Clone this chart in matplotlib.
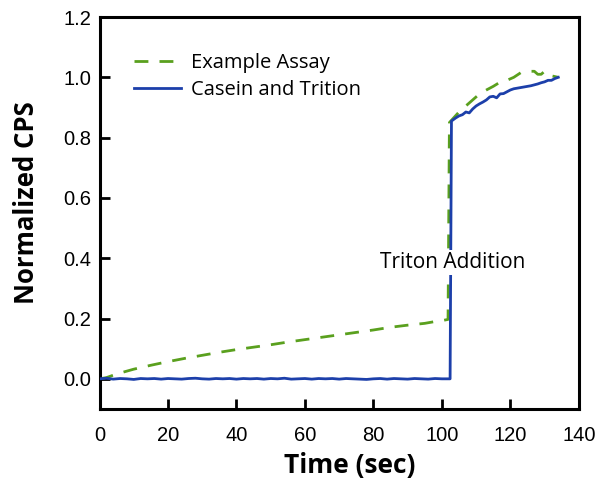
import matplotlib
matplotlib.use("Agg")
import matplotlib.pyplot as plt

plt.rcParams["font.family"] = ["Liberation Sans", "DejaVu Sans"]

# Example Assay (green dashed)
assay_t = [0, 2, 5, 10, 15, 20, 25, 30, 35, 40, 45, 50, 55, 60, 65, 70, 75, 80, 85, 90,
           95, 98, 100, 101.8, 102.2, 103, 105, 107, 109, 111, 113, 115, 117, 119, 121,
           123, 125, 127, 128, 129, 130, 131, 132, 134]
assay_v = [0.0, 0.004, 0.016, 0.032, 0.045, 0.057, 0.068, 0.078, 0.088, 0.097, 0.105,
           0.113, 0.122, 0.130, 0.138, 0.146, 0.154, 0.162, 0.171, 0.178, 0.184, 0.190,
           0.193, 0.197, 0.850, 0.860, 0.885, 0.905, 0.925, 0.945, 0.958, 0.970, 0.984,
           0.990, 1.000, 1.015, 1.020, 1.020, 1.010, 1.010, 1.020, 1.008, 1.005, 1.000]

# Casein and Trition (blue solid)
casein_t = [0, 2, 4, 6, 8, 10, 12, 14, 16, 18, 20, 22, 24, 26, 28, 30, 32, 34, 36, 38,
            40, 42, 44, 46, 48, 50, 52, 54, 56, 58, 60, 62, 64, 66, 68, 70, 72, 74, 76,
            78, 80, 82, 84, 86, 88, 90, 92, 94, 96, 98, 100, 102.4, 102.8, 104, 105, 106,
            107, 108, 109, 110, 111, 112, 113, 114, 115, 116, 117, 118, 119, 120, 121, 122,
            123, 124, 125, 126, 127, 128, 129, 130, 131, 132, 133, 134]
casein_v = [0.0, 0.002, -0.001, 0.001, 0.0, -0.002, 0.001, 0.0, 0.001, -0.001, 0.001,
            0.0, -0.001, 0.001, 0.002, 0.0, -0.001, 0.001, 0.0, 0.001, -0.001, 0.001,
            0.0, 0.001, -0.001, 0.001, 0.0, 0.002, -0.001, 0.0, 0.001, -0.001, 0.001,
            0.0, 0.001, -0.001, 0.001, 0.0, -0.001, -0.002, 0.0, 0.001, -0.001, 0.001,
            0.0, -0.001, 0.001, 0.0, -0.001, 0.001, 0.0, 0.0, 0.855, 0.865, 0.872, 0.876,
            0.885, 0.882, 0.895, 0.905, 0.912, 0.918, 0.925, 0.935, 0.937, 0.932, 0.945,
            0.946, 0.952, 0.958, 0.962, 0.964, 0.966, 0.968, 0.970, 0.972, 0.975, 0.978,
            0.982, 0.985, 0.990, 0.990, 0.996, 1.000]

x_ticks = [0, 20, 40, 60, 80, 100, 120, 140]
y_ticks = [0.0, 0.2, 0.4, 0.6, 0.8, 1.0, 1.2]

fig = plt.figure(figsize=(6.01, 4.82), dpi=100)
ax = fig.add_axes([0.1656, 0.1515, 0.7975, 0.8132])

green = "#5aa01e"
blue = "#1c3faa"
ax.plot(assay_t, assay_v, color=green, lw=2.0, ls=(0, (5, 4)), label="Example Assay", zorder=2)
ax.plot(casein_t, casein_v, color=blue, lw=2.0, label="Casein and Trition", zorder=3)

ax.set_xlim(0, 140)
ax.set_ylim(-0.1, 1.2)
ax.tick_params(direction="in", length=7, width=2, top=False, right=False, labelsize=14.5)
ax.tick_params(axis="x", pad=12)
ax.tick_params(axis="y", pad=6)
ax.set_xticks(x_ticks)
ax.set_yticks(y_ticks)
ax.set_xticklabels([str(v) for v in x_ticks])
ax.set_yticklabels([f"{v:.1f}" for v in y_ticks])
for s in ax.spines.values():
    s.set_linewidth(2.2)

ax.set_xlabel("Time (sec)", fontfamily="Open Sans", fontweight="bold", fontsize=19)
ax.set_ylabel("Normalized CPS", fontfamily="Open Sans", fontweight="bold", fontsize=18.5)
ax.xaxis.set_label_coords(0.521, -0.11)
ax.yaxis.set_label_coords(-0.125, 0.5255)

ax.text(103.2, 0.385, "Triton Addition", fontfamily="Open Sans", fontsize=15,
        ha="center", va="center", zorder=5,
        bbox=dict(facecolor="white", edgecolor="none", pad=1.5))

leg = ax.legend(loc="upper left", bbox_to_anchor=(0.035, 0.955), frameon=False,
                prop={"family": "Open Sans", "size": 14.5}, handlelength=2.3,
                handletextpad=0.5, labelspacing=0.35)

fig.savefig("out.png", dpi=100)
